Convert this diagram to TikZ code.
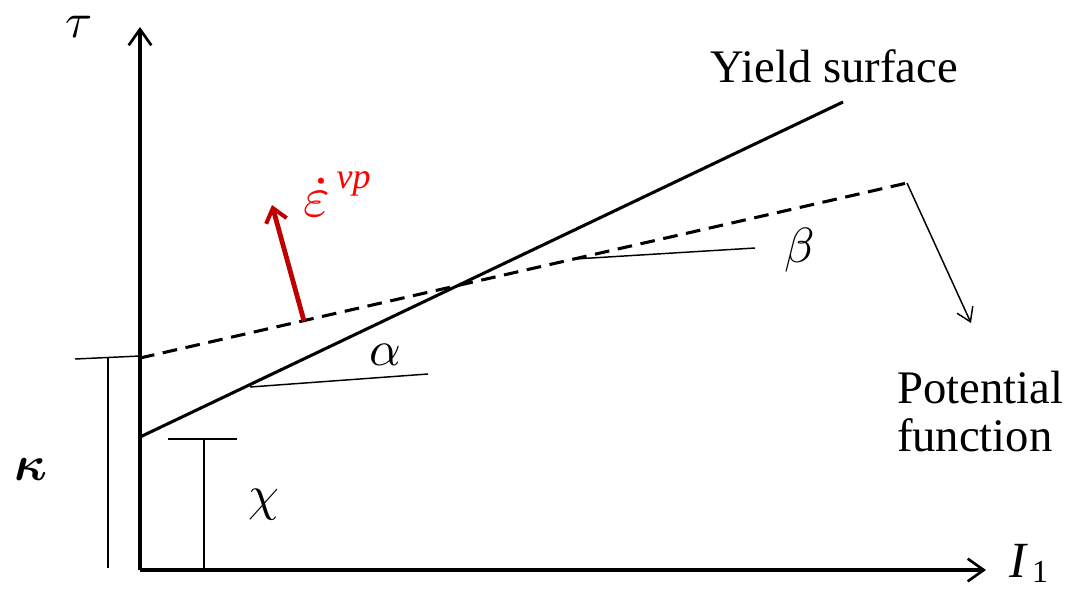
\documentclass[tikz,border=0pt]{standalone}
\usepackage{amsmath}
\usepackage{bm}
\usepackage{graphicx}
\usepackage{fontspec}
\setmainfont{Liberation Serif}
\usetikzlibrary{arrows.meta}
\definecolor{arrowred}{HTML}{C00000}
\definecolor{textred}{HTML}{FF0000}
\newcommand{\bigmath}[1]{\scalebox{3.7}{$#1$}}
\begin{document}
\begin{tikzpicture}[x=0.75pt,y=-0.75pt,
  axis/.style={line width=2.3pt,-{Straight Barb[length=12pt,width=17pt,line width=2pt]}},
  thick line/.style={line width=2.3pt},
  dash line/.style={line width=2.3pt,dash pattern=on 11pt off 6.5pt},
  thin line/.style={line width=1.1pt},
  lbl/.style={inner sep=0pt,font=\fontsize{35}{40}\selectfont},
  glbl/.style={inner sep=0pt}]
\useasboundingbox (0,0) rectangle (1078,590);
% axes
\coordinate (O) at (140,570);
\coordinate (ytip) at (140,27);
\coordinate (xtip) at (986,570);
\draw[axis] (O) -- (ytip);
\draw[axis] (O) -- (xtip);
\node[glbl] (tau) at (79,27) {\bigmath{\tau}};
\node[lbl,font=\fontsize{38}{40}\selectfont\itshape] (I) at (1018,561) {I};
\node[lbl,font=\fontsize{24}{28}\selectfont] (one) at (1040,572) {1};
% yield surface
\coordinate (ys0) at (140,437);
\coordinate (ys1) at (843,102);
\draw[thick line] (ys0) -- (ys1);
\node[lbl] (yslabel) at (834,66) {Yield surface};
% potential function
\coordinate (pf0) at (140,358);
\coordinate (pf1) at (907,183);
\coordinate (pftip) at (971,323);
\draw[dash line] (pf0) -- (pf1);
\draw[thin line,-{Straight Barb[length=10pt,width=13pt,line width=1.1pt]}] (pf1) -- (pftip);
\node[lbl,align=left] (pflabel) at (980,412) {Potential\\[-4pt]function};
% kappa bracket
\coordinate (k0) at (75,359);
\coordinate (k1) at (140,356);
\coordinate (kt) at (108,358);
\coordinate (kb) at (108,568);
\draw[thin line] (k0) -- (k1);
\draw[thin line] (kt) -- (kb);
\node[glbl] (kappa) at (31,470) {\bigmath{\bm{\kappa}}};
% chi bracket
\coordinate (c0) at (168,439);
\coordinate (c1) at (237,439);
\coordinate (ct) at (204,439);
\coordinate (cb) at (204,570);
\draw[thin line] (c0) -- (c1);
\draw[thin line] (ct) -- (cb);
\node[glbl] (chi) at (264,505) {\bigmath{\chi}};
% alpha
\coordinate (a0) at (250,387);
\coordinate (a1) at (428,374);
\draw[thin line] (a0) -- (a1);
\node[glbl] (alpha) at (385,355) {\bigmath{\alpha}};
% beta
\coordinate (b0) at (575,259);
\coordinate (b1) at (755,248);
\draw[thin line] (b0) -- (b1);
\node[glbl] (beta) at (800,250) {\bigmath{\beta}};
% red arrow
\coordinate (r0) at (304,321);
\coordinate (r1) at (272,205);
\draw[arrowred,line width=3.6pt,-{Straight Barb[length=10pt,width=16pt,line width=3pt]}] (r0) -- (r1);
\node[glbl,textred,anchor=base west] (eps) at (303,216)
  {\scalebox{4.3}{$\dot{\varepsilon}$}\hspace{5pt}\raisebox{21pt}{\fontsize{27}{28}\selectfont\itshape vp}};
\end{tikzpicture}
\end{document}
